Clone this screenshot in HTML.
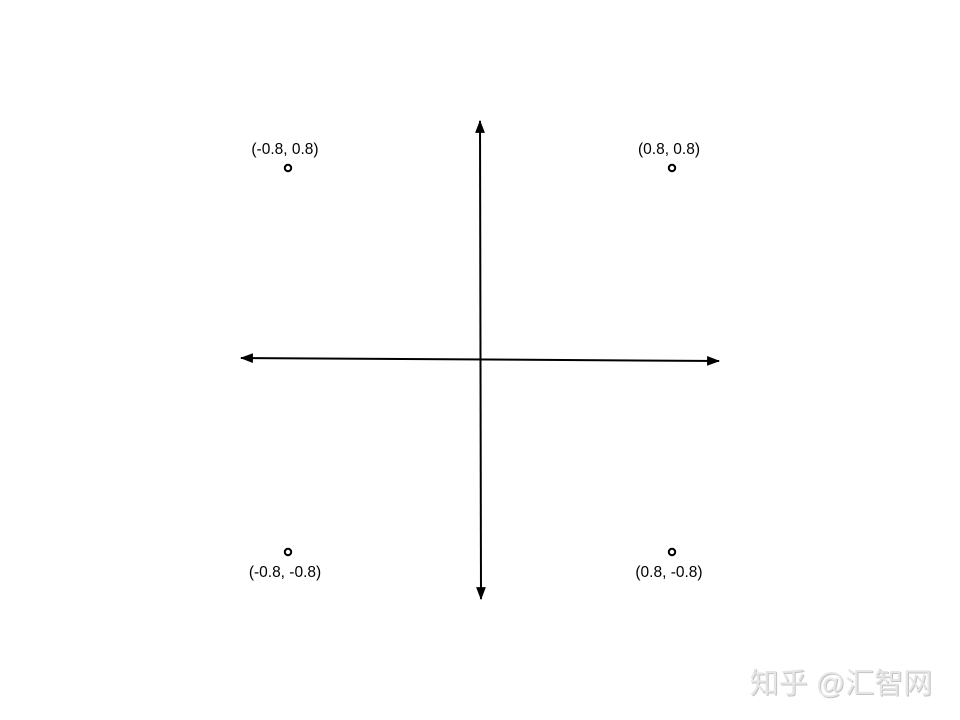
<!DOCTYPE html>
<html><head><meta charset="utf-8"><style>
html,body{margin:0;padding:0;background:#fff;width:960px;height:720px;overflow:hidden}
svg{display:block}
</style></head><body>
<svg id="chart" width="960" height="720" xmlns="http://www.w3.org/2000/svg">
<defs>
<marker id="ah" viewBox="0 0 12 10" refX="11" refY="5" markerWidth="13" markerHeight="11" markerUnits="userSpaceOnUse" orient="auto-start-reverse">
<path d="M0,0.5 L12,5 L0,9.5 z" fill="#000"/>
</marker>
</defs>
<line x1="241" y1="358" x2="719" y2="361" stroke="#000" stroke-width="2" marker-start="url(#ah)" marker-end="url(#ah)"/>
<line x1="480" y1="121" x2="481" y2="599" stroke="#000" stroke-width="2" marker-start="url(#ah)" marker-end="url(#ah)"/>
<g id="points"></g>
<text x="842" y="694" font-size="29" text-anchor="middle" fill="#555" opacity="0.35" font-family="'Liberation Sans','Noto Sans CJK SC',sans-serif">知乎 @汇智网</text>
<text x="841" y="693" font-size="29" text-anchor="middle" fill="#e6e6e6" font-family="'Liberation Sans','Noto Sans CJK SC',sans-serif">知乎 @汇智网</text>
</svg>
<script>
const xs = [-0.8, 0.8, -0.8, 0.8];
const ys = [0.8, 0.8, -0.8, -0.8];
const labels = ["(-0.8, 0.8)", "(0.8, 0.8)", "(-0.8, -0.8)", "(0.8, -0.8)"];
const cx = 480, cy = 360, unit = 240;
function sx(v){return cx + v*unit;}
function sy(v){return cy - v*unit;}
const g = document.getElementById('points');
const NS = 'http://www.w3.org/2000/svg';
for (let i=0;i<xs.length;i++){
  const c = document.createElementNS(NS,'circle');
  c.setAttribute('cx', sx(xs[i])); c.setAttribute('cy', sy(ys[i])); c.setAttribute('r', 3.2);
  c.setAttribute('fill','#fff'); c.setAttribute('stroke','#000'); c.setAttribute('stroke-width','2');
  
  
  g.appendChild(c);
  const t = document.createElementNS(NS,'text');
  t.setAttribute('x', sx(xs[i]) - 3);
  t.setAttribute('y', ys[i] > 0 ? sy(ys[i]) - 14 : sy(ys[i]) + 25);
  t.setAttribute('text-anchor','middle'); t.setAttribute('font-size','15.5');
  t.setAttribute('font-family','Liberation Sans, sans-serif'); t.setAttribute('fill','#000');
  t.textContent = labels[i];
  
  
  g.appendChild(t);
}
</script>
</body></html>
